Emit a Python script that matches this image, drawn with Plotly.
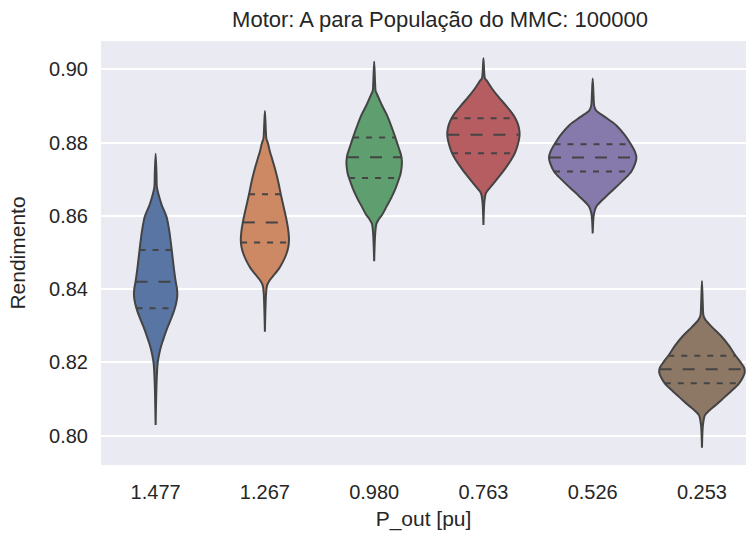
import numpy as np
import plotly.graph_objects as go

# ---------------- data ----------------
categories = ["1.477", "1.267", "0.980", "0.763", "0.526", "0.253"]

# violin outlines: efficiency levels and relative density (half-width) at each level
blue_y = [0.8769, 0.8720, 0.8680, 0.8662, 0.8630, 0.8598, 0.8560, 0.8507, 0.8460, 0.8420,
          0.8400, 0.8380, 0.8360, 0.8340, 0.8320, 0.8298, 0.8270, 0.8252, 0.8225, 0.8198,
          0.8150, 0.8029]
blue_d = [0, 0.8, 1.2, 2.5, 6, 10.8, 13.5, 16, 18, 20, 21.3, 21.5, 20.3, 18.2, 15.5, 12.2,
          8.5, 6.3, 3.7, 2, 1, 0]

orange_y = [0.8886, 0.8840, 0.8810, 0.8798, 0.8775, 0.8757, 0.8721, 0.8690, 0.8659, 0.8620,
            0.8582, 0.8555, 0.8535, 0.8515, 0.8493, 0.8475, 0.8458, 0.8440, 0.8425, 0.8411,
            0.8390, 0.8284]
orange_d = [0, 0.8, 1.5, 3, 5, 7, 10.8, 13.5, 15.8, 19, 22, 23.5, 24, 23.3, 21, 18, 14.5,
            9.5, 5, 2.2, 1.2, 0]

green_y = [0.9021, 0.8970, 0.8940, 0.8931, 0.8903, 0.8876, 0.8845, 0.8814, 0.8785, 0.8765,
           0.8748, 0.8730, 0.8715, 0.8703, 0.8675, 0.8649, 0.8625, 0.8603, 0.8590, 0.8578,
           0.8550, 0.8476]
green_d = [0, 0.8, 1.5, 3, 7.5, 12.5, 17, 21, 24.5, 26.8, 27.6, 27.2, 26.3, 25, 21.3, 17,
           12.3, 8, 4.5, 2.2, 1, 0]

red_y = [0.9030, 0.8990, 0.8975, 0.8968, 0.8948, 0.8930, 0.8903, 0.8880, 0.8866, 0.8850,
         0.8832, 0.8815, 0.8795, 0.8771, 0.8750, 0.8730, 0.8710, 0.8690, 0.8675, 0.8662,
         0.8640, 0.8575]
red_d = [0, 0.8, 1.5, 3.5, 8.3, 13.3, 21.7, 28.5, 31.7, 34.3, 35.8, 35.8, 34.3, 31.3, 27,
         22, 16.5, 10.5, 6, 2.5, 1, 0]

purple_y = [0.8975, 0.8930, 0.8900, 0.8887, 0.8870, 0.8848, 0.8820, 0.8795, 0.8775, 0.8759,
            0.8745, 0.8721, 0.8700, 0.8675, 0.8655, 0.8639, 0.8625, 0.8605, 0.8552]
purple_d = [0, 0.8, 1.5, 3.5, 12, 23, 32, 38, 42, 43.5, 42.5, 38.5, 31.5, 22, 14, 8, 3.5,
            1.2, 0]

brown_y = [0.8422, 0.8360, 0.8328, 0.8316, 0.8295, 0.8272, 0.8245, 0.8218, 0.8200, 0.8185,
           0.8172, 0.8158, 0.8143, 0.8120, 0.8099, 0.8082, 0.8068, 0.8056, 0.8030, 0.7967]
brown_d = [0, 0.8, 1.5, 3.5, 10.5, 19, 27, 33.5, 38.5, 42, 42.5, 40.5, 37, 28.5, 20, 13, 7,
           3, 1, 0]

# quartiles of each group
q1 = [0.8348, 0.8527, 0.8703, 0.8771, 0.8721, 0.8143]
median = [0.8420, 0.8582, 0.8760, 0.8821, 0.8759, 0.8181]
q3 = [0.8507, 0.8659, 0.8814, 0.8866, 0.8795, 0.8218]

y_ticks = [0.80, 0.82, 0.84, 0.86, 0.88, 0.90]

# ---------------- styling ----------------
colors = ["#5875A4", "#CC8963", "#5F9E6E", "#B55D60", "#857AAB", "#8D7866"]
edge = "#444444"
half_width = 0.4
font_family = "Liberation Sans, Arial, sans-serif"
text_color = "#262626"

profiles = [(blue_y, blue_d), (orange_y, orange_d), (green_y, green_d),
            (red_y, red_d), (purple_y, purple_d), (brown_y, brown_d)]
dmax = max(max(d) for _, d in profiles)

fig = go.Figure()
for i, (ys, ds) in enumerate(profiles):
    ys = np.array(ys)
    w = half_width * np.array(ds) / dmax
    xs = np.concatenate([i + w, (i - w)[::-1]])
    yy = np.concatenate([ys, ys[::-1]])
    fig.add_trace(go.Scatter(
        x=xs, y=yy, mode="lines", fill="toself", fillcolor=colors[i],
        line=dict(color=edge, width=2, shape="spline", smoothing=0.8),
        hoverinfo="skip", showlegend=False))
    # quartile lines
    order = np.argsort(ys)
    for q, dash in ((q1[i], "6px,7px"), (median[i], "12px,11px"), (q3[i], "6px,7px")):
        wq = half_width * np.interp(q, ys[order], np.array(ds)[order]) / dmax
        fig.add_trace(go.Scatter(
            x=[i - wq, i + wq], y=[q, q], mode="lines",
            line=dict(color=edge, width=2, dash=dash),
            hoverinfo="skip", showlegend=False))

fig.update_layout(
    width=746, height=536,
    margin=dict(l=101, r=0, t=41, b=71),
    paper_bgcolor="white", plot_bgcolor="#EAEAF2",
    font=dict(family=font_family, size=20, color=text_color),
    title=dict(text="Motor: A para População do MMC: 100000",
               x=440 / 746, xref="container", xanchor="center",
               y=1 - 19 / 536, yref="container", yanchor="middle",
               font=dict(size=22, color=text_color)),
    xaxis=dict(range=[-0.5, 5.403], tickvals=list(range(len(categories))),
               ticktext=categories, showgrid=False, zeroline=False,
               showline=False, ticks="", ticklabelstandoff=13,
               title=dict(text="P_out [pu]", standoff=9, font=dict(size=21))),
    yaxis=dict(range=[0.7920, 0.9077], tickvals=y_ticks,
               ticktext=[f"{v:.2f}" for v in y_ticks],
               showgrid=True, gridcolor="white", gridwidth=1.8,
               zeroline=False, showline=False, ticks="", ticklabelstandoff=12,
               title=dict(text="Rendimento", standoff=17, font=dict(size=21))),
)

fig.write_html("out.html")
